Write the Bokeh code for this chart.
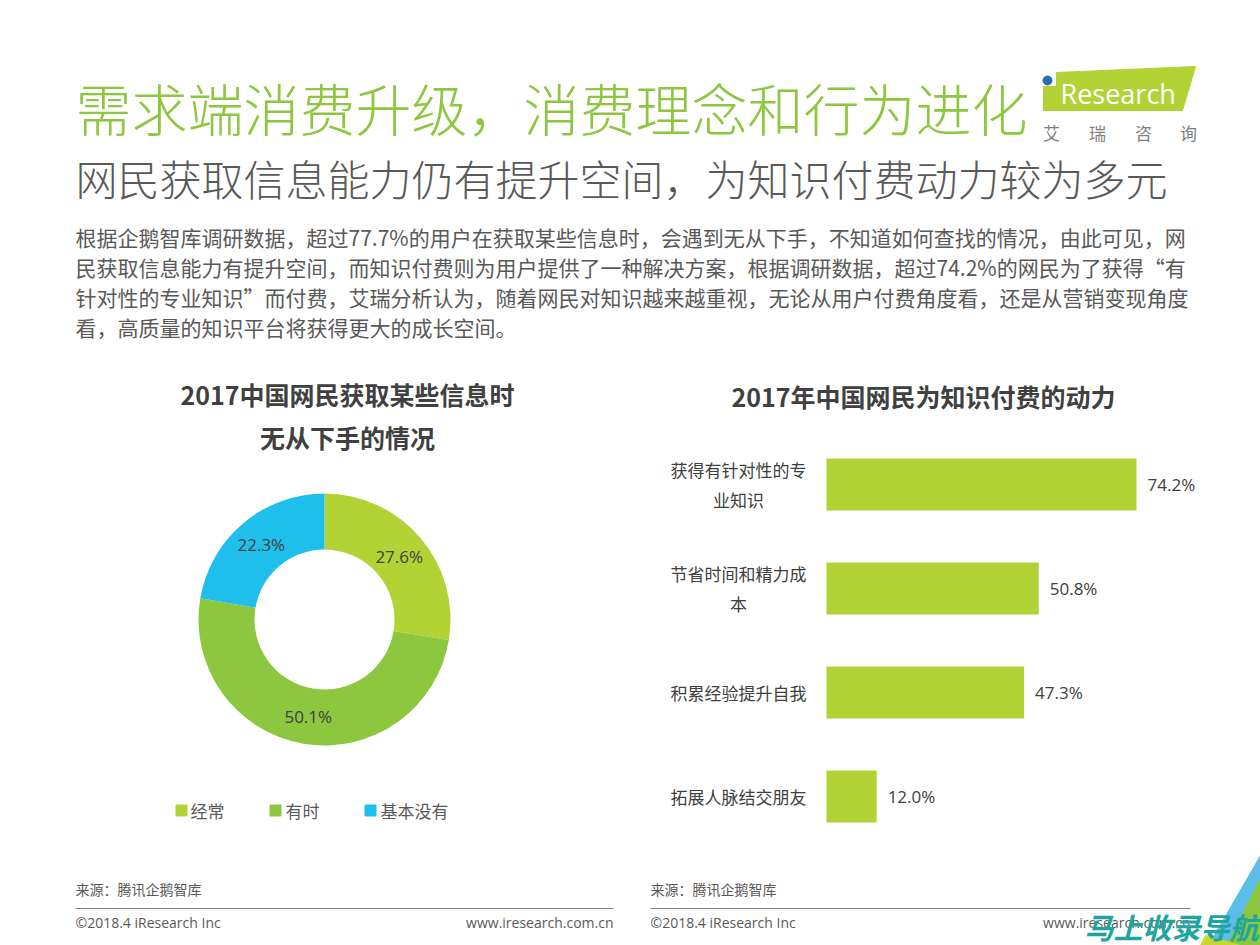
import numpy as np
from bokeh.plotting import figure
from bokeh.layouts import column, row
from bokeh.models import Range1d
from bokeh.core.properties import value
from bokeh.embed import file_html
from bokeh.resources import INLINE

# ---------------- data ----------------
main_title = "需求端消费升级，消费理念和行为进化"
sub_title = "网民获取信息能力仍有提升空间，为知识付费动力较为多元"
paragraph_lines = [
    "根据企鹅智库调研数据，超过77.7%的用户在获取某些信息时，会遇到无从下手，不知道如何查找的情况，由此可见，网",
    "民获取信息能力有提升空间，而知识付费则为用户提供了一种解决方案，根据调研数据，超过74.2%的网民为了获得“有",
    "针对性的专业知识”而付费，艾瑞分析认为，随着网民对知识越来越重视，无论从用户付费角度看，还是从营销变现角度",
    "看，高质量的知识平台将获得更大的成长空间。",
]

donut_title_lines = ["2017中国网民获取某些信息时", "无从下手的情况"]
donut_labels = ["经常", "有时", "基本没有"]
donut_values = [27.6, 50.1, 22.3]
donut_colors = ["#B3D235", "#8DC63F", "#1FBFEB"]

bar_title = "2017年中国网民为知识付费的动力"
bar_categories = ["获得有针对性的专\n业知识", "节省时间和精力成\n本", "积累经验提升自我", "拓展人脉结交朋友"]
bar_values = [74.2, 50.8, 47.3, 12.0]
bar_color = "#B3D235"

source_text = "来源：腾讯企鹅智库"
copyright_text = "©2018.4 iResearch Inc"
site_text = "www.iresearch.com.cn"

CJK = value("Noto Sans CJK SC")
CJK_LIGHT = value("Noto Sans CJK SC Light")
LAT = value("Open Sans")
DARK = "#404040"
GRAY = "#595959"


def make_fig(x0, x1, y0, y1, xr=None, yr=None):
    p = figure(width=x1 - x0, height=y1 - y0,
               x_range=xr if xr is not None else Range1d(x0, x1),
               y_range=yr if yr is not None else Range1d(y1, y0),
               output_backend="svg", toolbar_location=None,
               x_axis_location=None, y_axis_location=None,
               min_border=0)
    p.grid.visible = False
    p.outline_line_color = None
    p.background_fill_color = "white"
    p.border_fill_color = "white"
    return p


# ---------------- header (page px 0..1260 x 0..360) ----------------
head = make_fig(0, 1260, 0, 360)
head.text(x=[75], y=[106], text=[main_title], text_font=CJK_LIGHT, text_font_size="56px",
          text_color="#8DC63F", text_baseline="middle", text_align="left")
head.text(x=[75], y=[177], text=[sub_title], text_font=CJK_LIGHT, text_font_size="42px",
          text_color=GRAY, text_baseline="middle", text_align="left")
head.text(x=[75] * len(paragraph_lines), y=[236 + 30 * i for i in range(len(paragraph_lines))],
          text=paragraph_lines, text_font=CJK, text_font_size="21px",
          text_color=GRAY, text_baseline="middle", text_align="left")
# logo
head.patch(x=[1043, 1056, 1056, 1195, 1182, 1043], y=[86, 86, 72, 66, 110, 110], color="#B3D235")
head.scatter(x=[1047], y=[80], size=9, color="#2B6CB5", marker="circle")
head.text(x=[1060], y=[93], text=["Research"], text_font=LAT, text_font_size="27px",
          text_color="white", text_baseline="middle", text_align="left")
head.text(x=[1051, 1097, 1143, 1188], y=[132] * 4, text=["艾", "瑞", "咨", "询"], text_font=CJK,
          text_font_size="17px", text_color="#7F7F7F", text_baseline="middle", text_align="center")

# ---------------- donut (page px 0..630 x 360..850) ----------------
left = make_fig(0, 630, 360, 850)
left.text(x=[347, 347], y=[393, 436], text=donut_title_lines, text_font=CJK, text_font_size="25px",
          text_font_style="bold", text_color=DARK, text_baseline="middle", text_align="center")
cx, cy, r_in, r_out = 324, 619, 70, 126
vals = np.array(donut_values)
frac = vals / vals.sum()
cum = np.concatenate([[0], np.cumsum(frac)])
starts = np.pi / 2 - 2 * np.pi * cum[:-1]
ends = np.pi / 2 - 2 * np.pi * cum[1:]
left.annular_wedge(x=cx, y=cy, inner_radius=r_in, outer_radius=r_out,
                   start_angle=list(starts), end_angle=list(ends), direction="clock",
                   color=donut_colors, line_color=None)
mids = (starts + ends) / 2
r_lab = (r_in + r_out) / 2
left.text(x=list(cx + r_lab * np.cos(mids)), y=list(cy - r_lab * np.sin(mids)),
          text=[f"{v:.1f}%" for v in donut_values], text_font=LAT, text_font_size="17px",
          text_color=DARK, text_baseline="middle", text_align="center")
# legend
leg_sq_x = [181, 275, 370]
leg_tx_x = [190, 285, 380]
left.scatter(x=leg_sq_x, y=[810] * 3, marker="square", size=11, color=donut_colors)
left.text(x=leg_tx_x, y=[810] * 3, text=donut_labels, text_font=CJK, text_font_size="17px",
          text_color=GRAY, text_baseline="middle", text_align="left")

# ---------------- bars (page px 630..1260 x 360..850) ----------------
k = 310 / 74.2          # pixels per percent
bar_left_px = 826
band_px = 104
first_center_px = 484


def px2x(px):
    return (px - bar_left_px) / k


def py2y(py):
    return (py - first_center_px) / band_px


right = make_fig(630, 1260, 360, 850,
                 xr=Range1d(px2x(630), px2x(1260)),
                 yr=Range1d(py2y(850), py2y(360)))
idx = list(range(len(bar_values)))
right.hbar(y=idx, left=0, right=bar_values, height=0.5, color=bar_color, line_color=None)
right.text(x=bar_values, y=idx, text=[f"{v:.1f}%" for v in bar_values], x_offset=11,
           text_font=LAT, text_font_size="17px", text_color=DARK,
           text_baseline="middle", text_align="left")
right.text(x=[px2x(738)] * len(idx), y=idx, text=bar_categories, text_font=CJK,
           text_font_size="17px", text_color=DARK, text_baseline="middle",
           text_align="center", text_line_height=1.2)
right.text(x=[px2x(923)], y=[py2y(395)], text=[bar_title], text_font=CJK, text_font_size="25px",
           text_font_style="bold", text_color=DARK, text_baseline="middle", text_align="center")

# ---------------- footer (page px 0..1260 x 850..945) ----------------
foot = make_fig(0, 1260, 850, 945)
foot.text(x=[75, 650], y=[888, 888], text=[source_text] * 2, text_font=CJK, text_font_size="14px",
          text_color=GRAY, text_baseline="middle", text_align="left")
foot.segment(x0=[75, 650], y0=[908, 908], x1=[613, 1190], y1=[908, 908], line_color="#808080", line_width=1)
foot.text(x=[75, 650], y=[922, 922], text=[copyright_text] * 2, text_font=LAT, text_font_size="14px",
          text_color=GRAY, text_baseline="middle", text_align="left")
foot.text(x=[613, 1190], y=[922, 922], text=[site_text] * 2, text_font=LAT, text_font_size="14px",
          text_color=GRAY, text_baseline="middle", text_align="right")
# corner decoration
foot.patch(x=[1260, 1260, 1228, 1208], y=[855, 878, 945, 945], color="#5BBDE8")
foot.patch(x=[1260, 1260, 1226], y=[878, 945, 945], color="#8DC63F")
foot.patch(x=[1205, 1240, 1200], y=[935, 945, 945], color="#C8D92B")
foot.text(x=[1084], y=[925], text=["马上收录导航"], text_font=CJK, text_font_size="29px",
          text_font_style="bold italic", text_color="#1FA59E", text_baseline="middle", text_align="left")

layout = column(head, row(left, right), foot)
open("out.html", "w").write(file_html(layout, INLINE))
